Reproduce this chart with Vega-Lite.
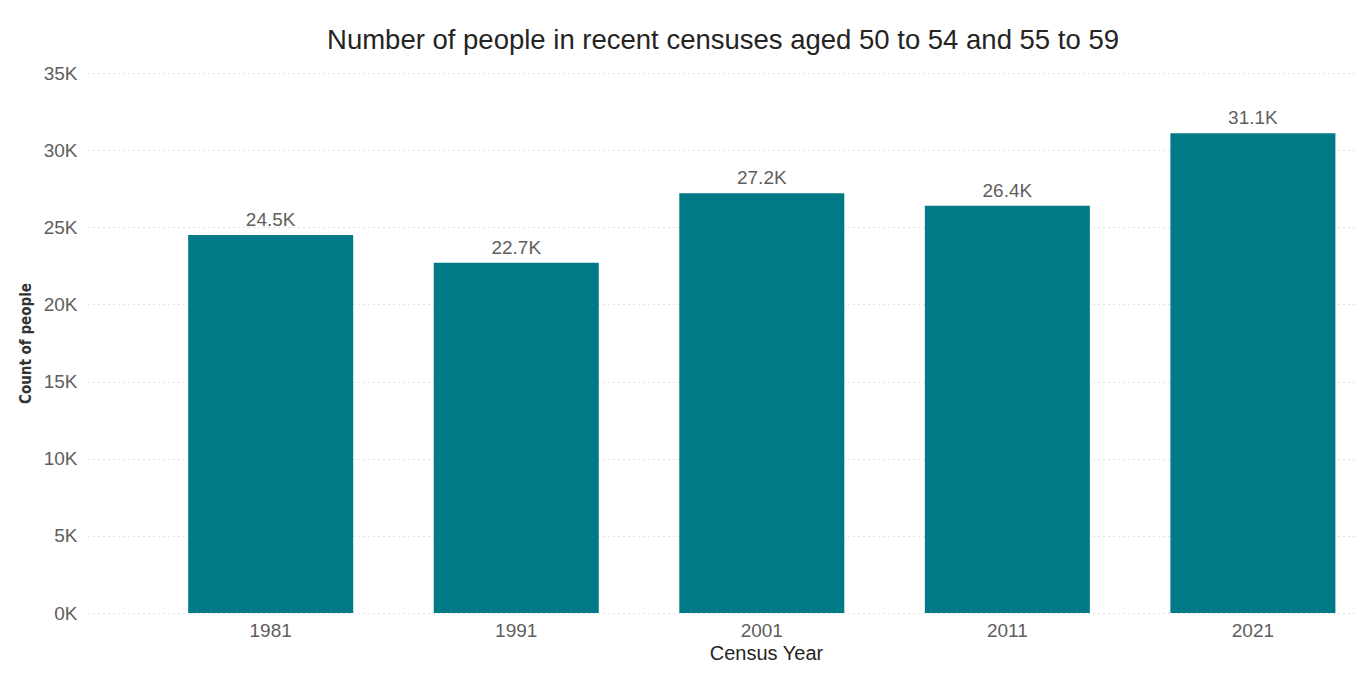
{
  "$schema": "https://vega.github.io/schema/vega-lite/v6.json",
  "autosize": "none",
  "width": 1270,
  "height": 540,
  "padding": {"left": 88, "top": 73, "right": 8, "bottom": 66},
  "background": "white",
  "config": {
    "view": {"stroke": null},
    "font": "Liberation Sans"
  },
  "title": {
    "text": "Number of people in recent censuses aged 50 to 54 and 55 to 59",
    "fontSize": 27.5,
    "fontWeight": "normal",
    "color": "#252423",
    "anchor": "middle",
    "offset": 10,
    "font": "Liberation Sans"
  },
  "data": {
    "values": [
      {"year": "1981", "count": 24500},
      {"year": "1991", "count": 22700},
      {"year": "2001", "count": 27200},
      {"year": "2011", "count": 26400},
      {"year": "2021", "count": 31100}
    ]
  },
  "encoding": {
    "x": {
      "field": "year",
      "type": "ordinal",
      "scale": {"paddingInner": 0.328, "paddingOuter": 0.25, "align": 0.816},
      "axis": {
        "title": "Census Year",
        "labelAngle": 0,
        "domain": false,
        "ticks": false,
        "labelPadding": 8,
        "labelFontSize": 19,
        "labelColor": "#605E5C",
        "labelFont": "Liberation Sans",
        "titleFontSize": 20,
        "titleFontWeight": "normal",
        "titleColor": "#252423",
        "titleFont": "Liberation Sans",
        "titlePadding": 3,
        "titleX": 678
      }
    },
    "y": {
      "field": "count",
      "type": "quantitative",
      "scale": {"domain": [0, 35000], "nice": false},
      "axis": {
        "title": "Count of people",
        "values": [0, 5000, 10000, 15000, 20000, 25000, 30000, 35000],
        "labelExpr": "datum.value / 1000 + 'K'",
        "domain": false,
        "ticks": false,
        "labelPadding": 11,
        "labelFontSize": 19,
        "labelColor": "#605E5C",
        "labelFont": "Liberation Sans",
        "grid": true,
        "gridColor": "#C8C6C4",
        "gridDash": [1, 4],
        "gridWidth": 1,
        "titleFontSize": 15,
        "titleFontWeight": "bold",
        "titleColor": "#333333",
        "titleFont": "DejaVu Sans Condensed",
        "titlePadding": 10
      }
    }
  },
  "layer": [
    {
      "mark": {"type": "bar", "color": "#007A86"}
    },
    {
      "mark": {
        "type": "text",
        "baseline": "bottom",
        "dy": -5,
        "fontSize": 19,
        "color": "#605E5C",
        "font": "Liberation Sans",
        "text": {"expr": "format(datum.count / 1000, '.1f') + 'K'"}
      }
    }
  ]
}
